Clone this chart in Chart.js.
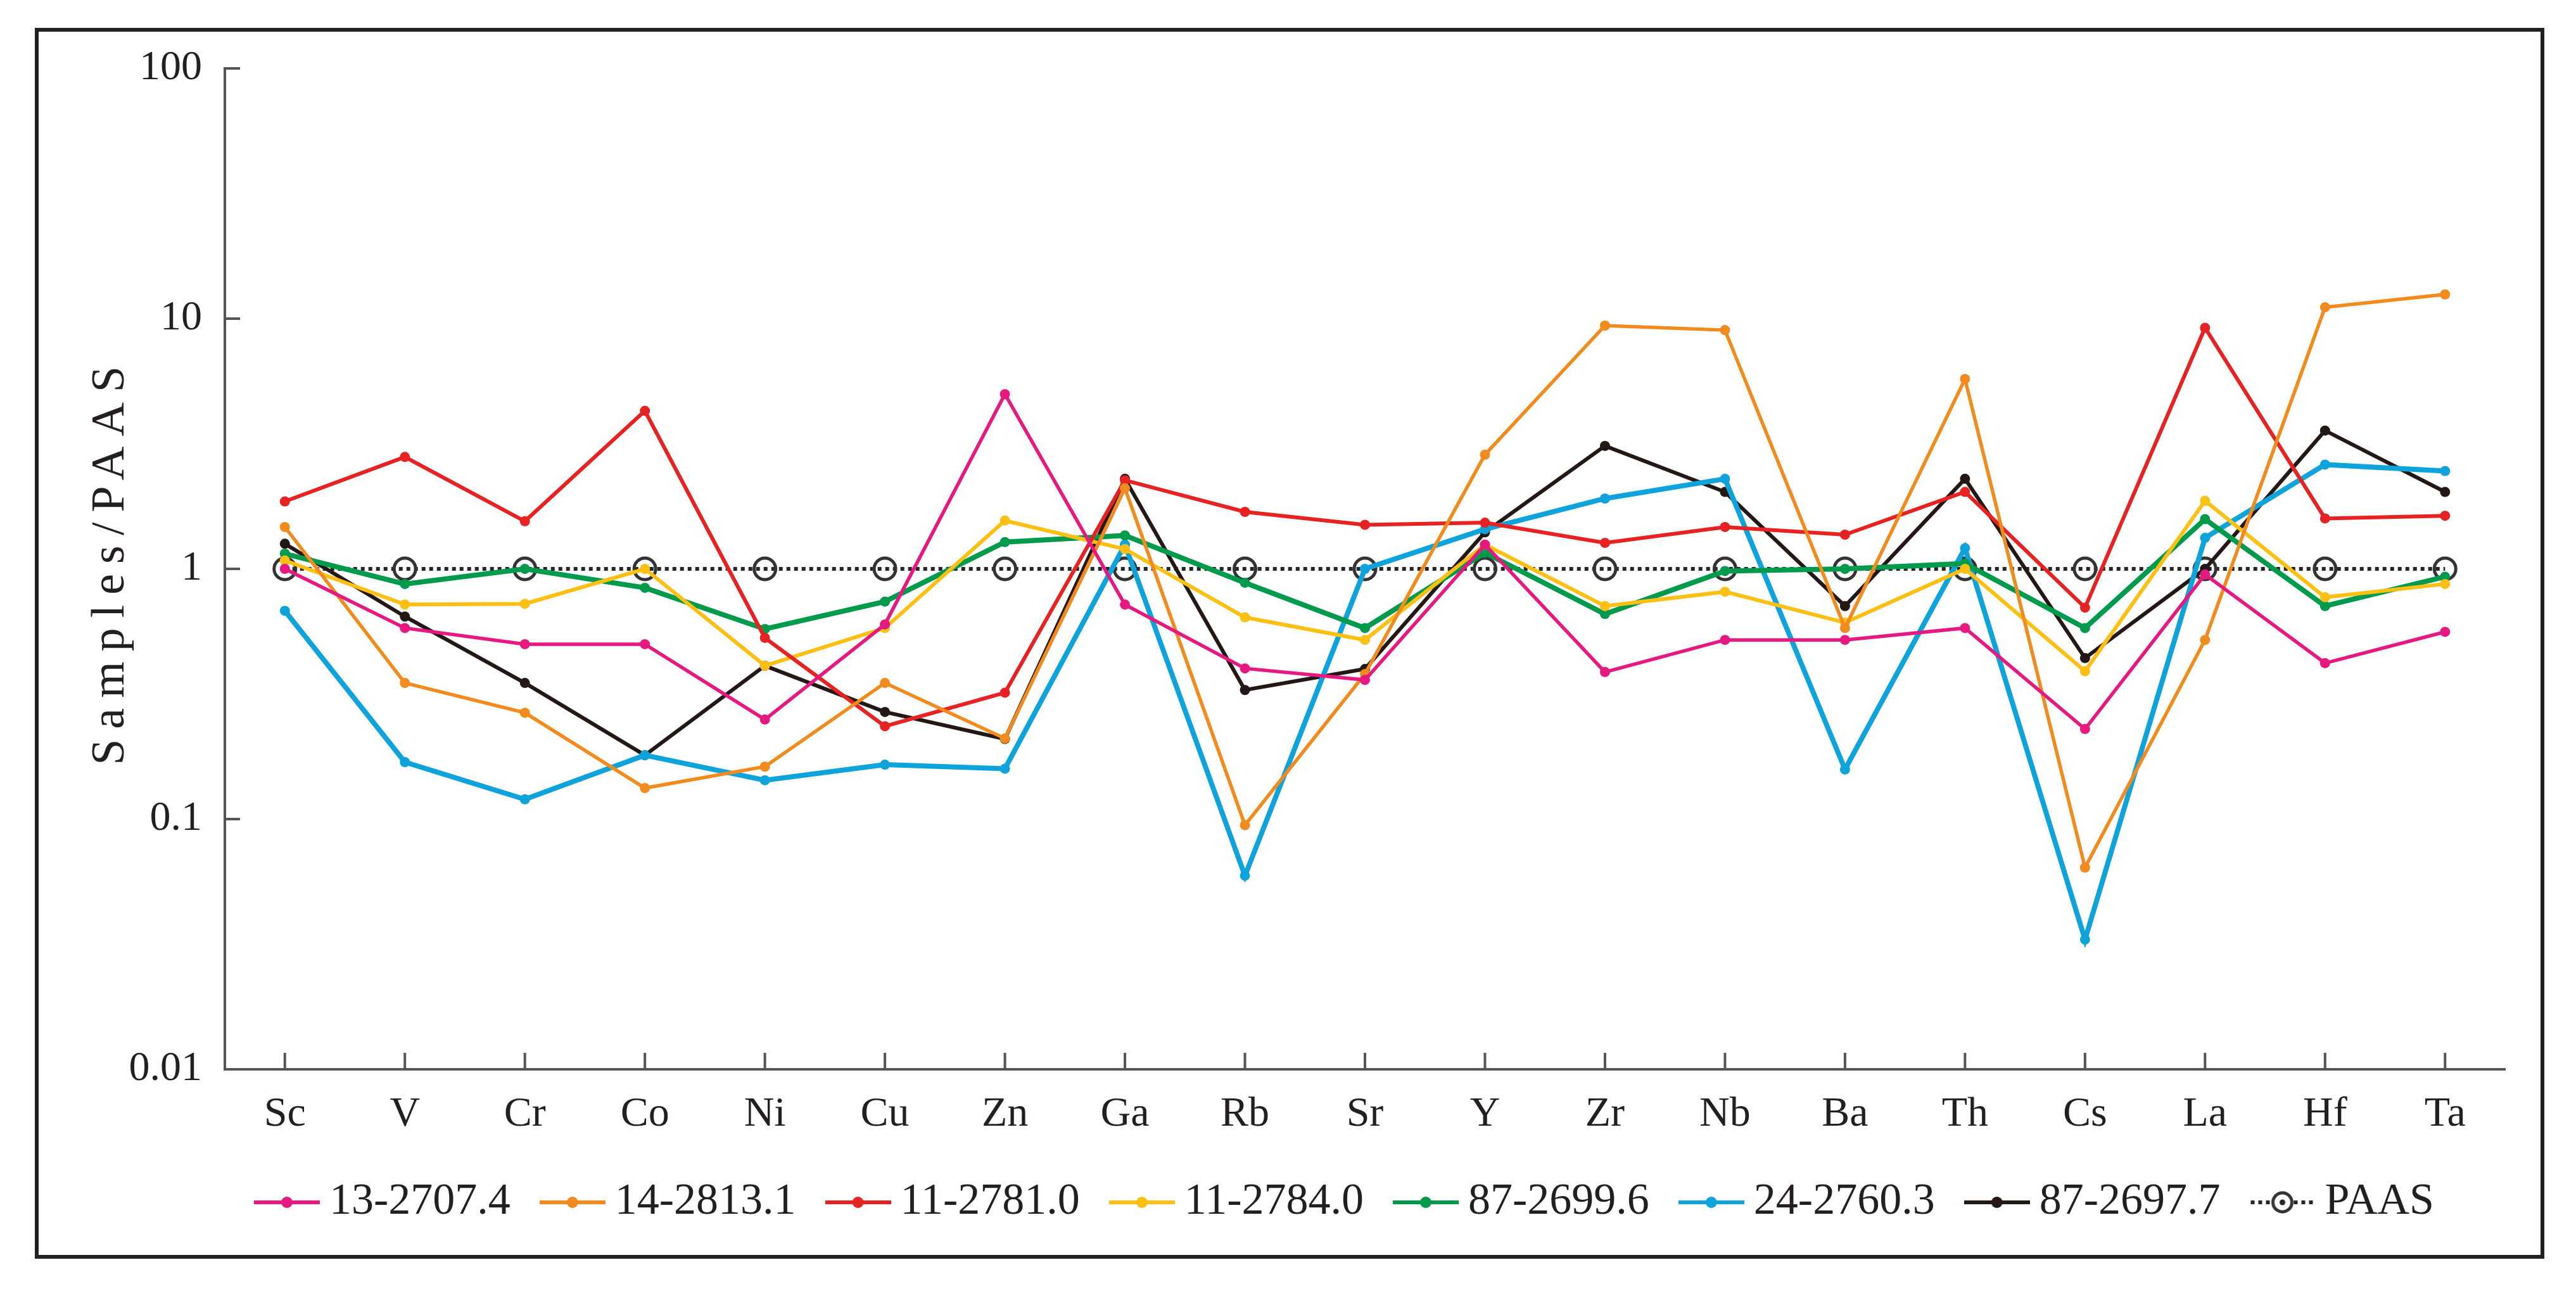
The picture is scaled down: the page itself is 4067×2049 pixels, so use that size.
<!DOCTYPE html>
<html>
<head>
<meta charset="utf-8">
<script src="https://cdn.jsdelivr.net/npm/chart.js@4.4.1/dist/chart.umd.min.js"></script>
<style>
  html, body { margin: 0; padding: 0; background: #ffffff; }
  #c { display: block; }
</style>
</head>
<body>
<canvas id="c" width="4067" height="2049" style="width:4067px;height:2049px"></canvas>
<script>
// ---------------- DATA ----------------
const categories = ['Sc','V','Cr','Co','Ni','Cu','Zn','Ga','Rb','Sr','Y','Zr','Nb','Ba','Th','Cs','La','Hf','Ta'];

const seriesNames = ['13-2707.4','14-2813.1','11-2781.0','11-2784.0','87-2699.6','24-2760.3','87-2697.7','PAAS'];

const s13_2707_4 = [1.0, 0.58, 0.50, 0.50, 0.25, 0.60, 4.99, 0.72, 0.40, 0.36, 1.25, 0.387, 0.52, 0.52, 0.58, 0.229, 0.95, 0.42, 0.56];
const s14_2813_1 = [1.47, 0.35, 0.266, 0.133, 0.162, 0.35, 0.21, 2.1, 0.0946, 0.38, 2.86, 9.38, 9.0, 0.58, 5.74, 0.064, 0.52, 11.1, 12.5];
const s11_2781_0 = [1.86, 2.8, 1.55, 4.28, 0.53, 0.235, 0.32, 2.26, 1.69, 1.50, 1.53, 1.27, 1.47, 1.37, 2.03, 0.70, 9.19, 1.59, 1.63];
const s11_2784_0 = [1.08, 0.72, 0.725, 1.0, 0.41, 0.58, 1.56, 1.2, 0.64, 0.52, 1.25, 0.71, 0.81, 0.61, 1.0, 0.39, 1.87, 0.77, 0.87];
const s87_2699_6 = [1.15, 0.87, 1.0, 0.84, 0.575, 0.74, 1.28, 1.36, 0.88, 0.58, 1.16, 0.66, 0.98, 1.0, 1.05, 0.58, 1.58, 0.71, 0.93];
const s24_2760_3 = [0.68, 0.169, 0.12, 0.18, 0.143, 0.165, 0.159, 1.25, 0.0594, 1.0, 1.44, 1.91, 2.29, 0.158, 1.21, 0.033, 1.33, 2.61, 2.46];
const s87_2697_7 = [1.26, 0.645, 0.35, 0.18, 0.41, 0.268, 0.209, 2.29, 0.328, 0.398, 1.4, 3.1, 2.03, 0.71, 2.29, 0.44, 1.0, 3.57, 2.03];
const paas       = [1, 1, 1, 1, 1, 1, 1, 1, 1, 1, 1, 1, 1, 1, 1, 1, 1, 1, 1];

const yTickValues = [0.01, 0.1, 1, 10, 100];
const yTickLabels = ['0.01', '0.1', '1', '10', '100'];
const yTitle = 'Samples/PAAS';

// ---------------- STYLE ----------------
const SERIF = '"Liberation Serif", "DejaVu Serif", serif';
const TEXT = '#231f20';
const AXIS = '#555555';
const colors = ['#e5197f', '#f18b1e', '#e62222', '#fcbf14', '#009a4c', '#0fa3dc', '#231815'];
const widths = [5.5, 5.5, 6, 6, 8, 8, 6];
const sampleSeries = [s13_2707_4, s14_2813_1, s11_2781_0, s11_2784_0, s87_2699_6, s24_2760_3, s87_2697_7];

const datasets = sampleSeries.map((d, i) => ({
  label: seriesNames[i],
  data: d,
  borderColor: colors[i],
  backgroundColor: colors[i],
  borderWidth: widths[i],
  pointRadius: 8,
  pointBorderWidth: 0,
  pointBackgroundColor: colors[i],
  pointStyle: 'circle',
  tension: 0,
  fill: false
}));
datasets.push({
  label: seriesNames[7],
  data: paas,
  borderColor: '#262626',
  backgroundColor: 'rgba(0,0,0,0)',
  borderWidth: 6,
  borderDash: [6, 6],
  pointRadius: 17,
  pointBorderWidth: 5,
  pointBorderColor: '#333333',
  pointBackgroundColor: 'rgba(0,0,0,0)',
  pointStyle: 'circle',
  tension: 0,
  fill: false
});

// legend sample images (line + marker)
function legendImage(i) {
  const cv = document.createElement('canvas');
  cv.width = 104; cv.height = 44;
  const g = cv.getContext('2d');
  const cy = 22;
  if (i < 7) {
    g.strokeStyle = colors[i]; g.lineWidth = 6;
    g.beginPath(); g.moveTo(0, cy); g.lineTo(104, cy); g.stroke();
    g.fillStyle = colors[i];
    g.beginPath(); g.arc(52, cy, 9, 0, Math.PI * 2); g.fill();
  } else {
    g.strokeStyle = '#262626'; g.lineWidth = 6; g.setLineDash([6, 6]);
    g.beginPath(); g.moveTo(2, cy); g.lineTo(36, cy); g.moveTo(70, cy); g.lineTo(104, cy); g.stroke();
    g.setLineDash([]);
    g.lineWidth = 5; g.strokeStyle = '#333333';
    g.beginPath(); g.arc(52, cy, 15, 0, Math.PI * 2); g.stroke();
    g.fillStyle = '#262626';
    g.beginPath(); g.arc(52, cy, 4.5, 0, Math.PI * 2); g.fill();
  }
  return cv;
}
const legendImages = seriesNames.map((n, i) => legendImage(i));

const decor = {
  id: 'decor',
  beforeDatasetsDraw(chart) {
    const { ctx, chartArea, scales: { x, y } } = chart;
    ctx.save();
    ctx.strokeStyle = AXIS;
    ctx.lineWidth = 4;
    ctx.beginPath();
    categories.forEach((c, i) => {
      const px = x.getPixelForTick(i);
      ctx.moveTo(px, chartArea.bottom);
      ctx.lineTo(px, chartArea.bottom - 26);
    });
    yTickValues.forEach(v => {
      const py = y.getPixelForValue(v);
      ctx.moveTo(chartArea.left, py);
      ctx.lineTo(chartArea.left + 24, py);
    });
    ctx.stroke();
    ctx.restore();
  },
  afterDraw(chart) {
    const { ctx } = chart;
    ctx.save();
    // outer frame
    ctx.strokeStyle = TEXT;
    ctx.lineWidth = 6;
    ctx.strokeRect(58, 47, 4014 - 58, 1984 - 47);
    // y-axis title
    ctx.translate(176, 893);
    ctx.rotate(-Math.PI / 2);
    ctx.font = '74px ' + SERIF;
    ctx.fillStyle = TEXT;
    ctx.textAlign = 'center';
    ctx.textBaseline = 'middle';
    try { ctx.letterSpacing = '16px'; } catch (e) {}
    ctx.fillText(yTitle, 8, 0);
    ctx.restore();
  }
};

new Chart(document.getElementById('c'), {
  type: 'line',
  data: { labels: categories, datasets },
  options: {
    responsive: false,
    devicePixelRatio: 1,
    animation: false,
    layout: { padding: { left: 55, right: 112, top: 108, bottom: 106 } },
    scales: {
      x: {
        type: 'category',
        offset: true,
        grid: { display: false, drawTicks: false },
        border: { display: true, color: AXIS, width: 4 },
        ticks: { font: { family: SERIF, size: 66 }, color: TEXT, padding: 32, maxRotation: 0, autoSkip: false },
        afterFit(s) { s.height = 109; }
      },
      y: {
        type: 'logarithmic',
        min: 0.01,
        max: 100,
        grid: { display: false, drawTicks: false },
        border: { display: true, color: AXIS, width: 4 },
        afterBuildTicks(s) { s.ticks = yTickValues.map(v => ({ value: v })); },
        ticks: {
          font: { family: SERIF, size: 66 },
          color: TEXT,
          padding: 36,
          callback: (v, i) => yTickLabels[i]
        },
        afterFit(s) { s.width = 300; }
      }
    },
    plugins: {
      legend: {
        position: 'bottom',
        fullSize: false,
        align: 'start',
        labels: {
          usePointStyle: true,
          pointStyleWidth: 64,
          padding: 66,
          color: TEXT,
          font: { family: SERIF, size: 70 },
          generateLabels(chart) {
            const items = Chart.defaults.plugins.legend.labels.generateLabels(chart);
            items.forEach((it, i) => { it.pointStyle = legendImages[i]; it.fontColor = TEXT; });
            return items;
          }
        }
      },
      tooltip: { enabled: false }
    }
  },
  plugins: [decor]
});
</script>
</body>
</html>
